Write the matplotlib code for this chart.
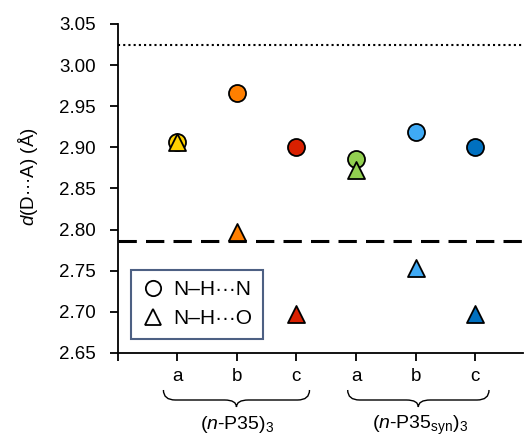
import matplotlib
matplotlib.use("Agg")
import matplotlib.pyplot as plt
from matplotlib.path import Path
from matplotlib.patches import PathPatch
from matplotlib.lines import Line2D
import matplotlib.transforms as mtransforms

plt.rcParams['font.family'] = ['Liberation Sans', 'DejaVu Sans']
plt.rcParams['mathtext.fontset'] = 'custom'
plt.rcParams['mathtext.rm'] = 'Liberation Sans'
plt.rcParams['mathtext.it'] = 'Liberation Sans:italic'

# Data
categories = ['a', 'b', 'c', 'a', 'b', 'c']
groups = ['($n$-P35)$_3$', '($n$-P35$_{\\mathrm{syn}}$)$_3$']
nhn = [2.906, 2.966, 2.900, 2.886, 2.919, 2.900]
nho = [2.907, 2.797, 2.697, 2.873, 2.753, 2.698]
colors = ['#FFD200', '#FF7F00', '#D92000', '#92D050', '#3FAAF5', '#0070C0']
dotted_ref = 3.0245
dashed_ref = 2.786
yticks = [2.65, 2.70, 2.75, 2.80, 2.85, 2.90, 2.95, 3.00, 3.05]

fig = plt.figure(figsize=(5.25, 4.37), dpi=100)
ax = fig.add_axes([117.5/525, 1-353/437, (523-117.5)/525, (353-24)/437])

xs = list(range(1, len(categories)+1))
ax.axhline(dotted_ref, color='black', lw=1.5, ls=(0, (1, 1.5)), zorder=1)
ax.axhline(dashed_ref, color='black', lw=2.2, ls=(0, (6, 3)), zorder=1)

for x, y1, y2, c in zip(xs, nhn, nho, colors):
    ax.scatter([x], [y1], s=150, marker='o', facecolor=c, edgecolor='black', linewidth=1.3, zorder=3, clip_on=False)
    ax.scatter([x], [y2], s=150, marker='^', facecolor=c, edgecolor='black', linewidth=1.3, zorder=4, clip_on=False)

ax.set_xlim(0, 6.8)
ax.set_ylim(2.65, 3.05)
ax.set_yticks(yticks)
ax.set_yticklabels([f'{v:.2f}' for v in yticks], fontsize=13.5)
ax.set_xticks([0] + xs)
ax.set_xticklabels([''] + categories, fontsize=13.5)
ax.tick_params(axis='both', direction='out', length=5.5, width=1.3, colors='black')
ax.tick_params(axis='y', pad=10)
ax.tick_params(axis='x', pad=5)
for s in ['top', 'right']:
    ax.spines[s].set_visible(False)
for s in ['left', 'bottom']:
    ax.spines[s].set_linewidth(1.3)

ax.set_ylabel('$d$(D\u00b7\u00b7\u00b7A) (Å)', fontsize=13.5)
ax.yaxis.set_label_coords(-0.19, 0.535)

# legend
handles = [Line2D([], [], marker='o', ls='', markerfacecolor='white', markeredgecolor='black', markersize=11, markeredgewidth=1.3),
           Line2D([], [], marker='^', ls='', markerfacecolor='white', markeredgecolor='black', markersize=12, markeredgewidth=1.3)]
leg = ax.legend(handles, ['N\u2013H\u00b7\u00b7\u00b7N', 'N\u2013H\u00b7\u00b7\u00b7O'], loc='lower left',
                bbox_to_anchor=(0.033, 0.043), frameon=True, fancybox=False, fontsize=15,
                handletextpad=0.45, borderpad=0.5, labelspacing=0.5, handlelength=1.1, borderaxespad=0)
leg.get_frame().set_edgecolor('#203864')
leg.get_frame().set_linewidth(1.5)

# braces
trans = mtransforms.blended_transform_factory(ax.transData, ax.transAxes)
def brace(x0, x1, ytop, ymid, ytip, r=0.2):
    xm = (x0 + x1) / 2
    verts = [(x0, ytop), (x0, ymid), (x0 + r, ymid),
             (xm - r, ymid), (xm, ymid), (xm, ytip),
             (xm, ymid), (xm + r, ymid),
             (x1 - r, ymid), (x1, ymid), (x1, ytop)]
    codes = [Path.MOVETO, Path.CURVE3, Path.CURVE3,
             Path.LINETO, Path.CURVE3, Path.CURVE3,
             Path.CURVE3, Path.CURVE3,
             Path.LINETO, Path.CURVE3, Path.CURVE3]
    p = PathPatch(Path(verts, codes), transform=trans, fill=False, lw=1.0, color='black', clip_on=False)
    ax.add_patch(p)

def yax(py):
    return (353 - py) / 329

brace(0.77, 3.22, yax(390), yax(400), yax(407))
brace(3.86, 6.23, yax(390), yax(400), yax(407))
ax.text(2.0, yax(429), groups[0], transform=trans, ha='center', va='baseline', fontsize=14)
ax.text(5.08, yax(429), groups[1], transform=trans, ha='center', va='baseline', fontsize=14)

fig.savefig('out.png', dpi=100)
